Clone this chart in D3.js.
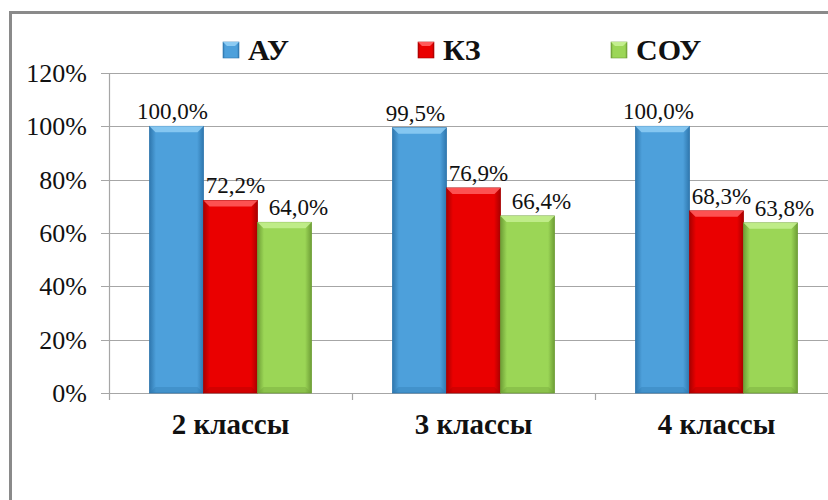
<!DOCTYPE html>
<html><head><meta charset="utf-8">
<script src="https://cdn.jsdelivr.net/npm/d3@7"></script>
</head><body style="margin:0;background:#fff">
<svg id="c" width="828" height="500" style="display:block"></svg>
<script>
const categories = ["2 классы", "3 классы", "4 классы"];
const seriesNames = ["АУ", "КЗ", "СОУ"];
const valuesAU  = [1.000, 0.995, 1.000];
const valuesKZ  = [0.722, 0.769, 0.683];
const valuesSOU = [0.640, 0.664, 0.638];
const labelsAU  = ["100,0%", "99,5%", "100,0%"];
const labelsKZ  = ["72,2%", "76,9%", "68,3%"];
const labelsSOU = ["64,0%", "66,4%", "63,8%"];
const yTicks = [0, 0.2, 0.4, 0.6, 0.8, 1.0, 1.2];
const yTickLabels = ["0%", "20%", "40%", "60%", "80%", "100%", "120%"];

const seriesValues = [valuesAU, valuesKZ, valuesSOU];
const seriesLabels = [labelsAU, labelsKZ, labelsSOU];
const colors = ["#4DA0DB", "#EA0000", "#9BD656"];
const light = ["#8CCBF3", "#FF5A5A", "#C3EE8E"];
const dark = ["#2F77AE", "#A80000", "#6E9E36"];
const labelDx = [-4, 5, 14];
const FONT = '"Liberation Serif", "Times New Roman", serif';

const svg = d3.select("#c");
function font(sel, size, weight) {
  return sel.attr("font-family", FONT).attr("font-size", size)
    .style("font-family", FONT, "important").style("font-size", size + "px", "important")
    .style("font-weight", weight || "normal", "important");
}

svg.append("rect").attr("x", 10.5).attr("y", 12.5).attr("width", 900).attr("height", 600)
  .attr("fill", "#fff").attr("stroke", "#8a8a8a").attr("stroke-width", 3);

const x0 = d3.scaleBand().domain(categories).range([109, 838]).paddingInner(0).paddingOuter(0);
const x1 = d3.scaleBand().domain(seriesNames).range([0, x0.bandwidth()]).paddingInner(0).paddingOuter(0.75);
const y = d3.scaleLinear().domain([0, 1.2]).range([393, 73]);

svg.append("g").selectAll("line").data(yTicks).join("line")
  .attr("x1", 101).attr("x2", 828)
  .attr("y1", d => Math.round(y(d)) + 0.5).attr("y2", d => Math.round(y(d)) + 0.5)
  .attr("stroke", "#a6a6a6").attr("stroke-width", 1.2);

svg.append("line").attr("x1", 109.5).attr("x2", 109.5).attr("y1", y(1.2)).attr("y2", 400)
  .attr("stroke", "#a6a6a6").attr("stroke-width", 1.2);
svg.append("g").selectAll("line").data(categories.slice(1)).join("line")
  .attr("x1", d => Math.round(x0(d)) + 0.5).attr("x2", d => Math.round(x0(d)) + 0.5)
  .attr("y1", 393).attr("y2", 400).attr("stroke", "#a6a6a6").attr("stroke-width", 1.2);

font(svg.selectAll("text.ytick").data(yTicks).join("text").attr("class", "ytick")
  .attr("x", 87).attr("y", d => y(d)).attr("dy", "0.35em")
  .attr("text-anchor", "end").attr("fill", "#111")
  .text((d, i) => yTickLabels[i]), 26);

const defs = svg.append("defs");
colors.forEach((c, i) => {
  const g = defs.append("linearGradient").attr("id", "g" + i).attr("x1", 0).attr("x2", 1).attr("y1", 0).attr("y2", 0);
  g.append("stop").attr("offset", 0).attr("stop-color", dark[i]);
  g.append("stop").attr("offset", 0.12).attr("stop-color", c);
  g.append("stop").attr("offset", 0.88).attr("stop-color", c);
  g.append("stop").attr("offset", 1).attr("stop-color", dark[i]);
});

const bev = 6;
categories.forEach((cat, ci) => {
  seriesNames.forEach((s, si) => {
    const v = seriesValues[si][ci];
    const bx = x0(cat) + x1(s);
    const bw = x1.bandwidth();
    const by = y(v);
    const bh = y(0) - by;
    svg.append("rect").attr("x", bx).attr("y", by).attr("width", bw).attr("height", bh)
      .attr("fill", "url(#g" + si + ")").attr("stroke", dark[si]).attr("stroke-width", 0.8);
    svg.append("path").attr("d", `M${bx},${by} L${bx + bw},${by} L${bx + bw - bev},${by + bev} L${bx + bev},${by + bev} Z`)
      .attr("fill", light[si]).attr("opacity", 0.9);
    svg.append("path").attr("d", `M${bx},${by + bh} L${bx + bw},${by + bh} L${bx + bw - bev},${by + bh - bev} L${bx + bev},${by + bh - bev} Z`)
      .attr("fill", dark[si]).attr("opacity", 0.35);
    font(svg.append("text").attr("x", bx + bw / 2 + labelDx[si]).attr("y", by - 7)
      .attr("text-anchor", "middle").attr("fill", "#111")
      .text(seriesLabels[si][ci]), 23);
  });
});

font(svg.selectAll("text.cat").data(categories).join("text").attr("class", "cat")
  .attr("x", d => x0(d) + x0.bandwidth() / 2).attr("y", 434)
  .attr("text-anchor", "middle").attr("fill", "#111").text(d => d), 29, "bold");

const legX = [223, 418, 611];
seriesNames.forEach((s, i) => {
  svg.append("rect").attr("x", legX[i]).attr("y", 42).attr("width", 16).attr("height", 16)
    .attr("fill", "url(#g" + i + ")").attr("stroke", dark[i]).attr("stroke-width", 0.6);
  svg.append("path").attr("d", `M${legX[i]},42 L${legX[i] + 16},42 L${legX[i] + 12},46 L${legX[i] + 4},46 Z`).attr("fill", light[i]);
  font(svg.append("text").attr("x", legX[i] + 25).attr("y", 60).attr("fill", "#111").text(s), 30, "bold");
});
</script>
</body></html>
